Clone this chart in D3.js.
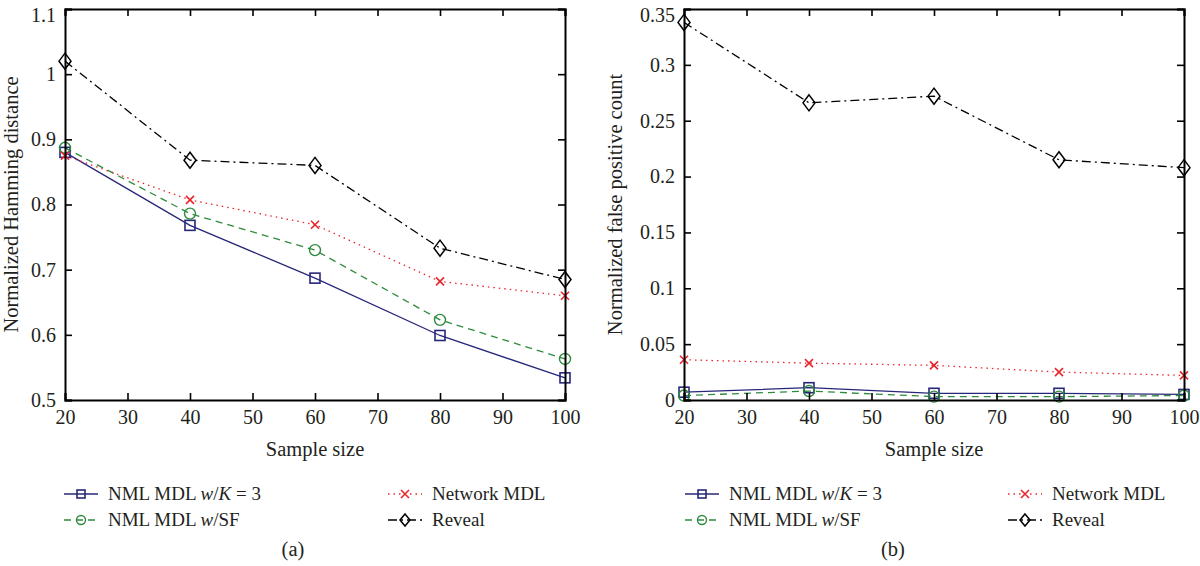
<!DOCTYPE html>
<html><head><meta charset="utf-8">
<script src="https://cdn.jsdelivr.net/npm/d3@7"></script>
<style>
body{margin:0;background:#fff;}
svg text{font-family:"Liberation Serif","DejaVu Serif",serif;fill:#231f20;}
</style></head>
<body><svg id="c" width="1200" height="566"></svg>
<script>
const sampleSizes = [20, 40, 60, 80, 100];
const xTicks = [20, 30, 40, 50, 60, 70, 80, 90, 100];

// Panel (a): Normalized Hamming distance
const hamK3      = [0.880, 0.768, 0.687, 0.599, 0.534];
const hamSF      = [0.887, 0.786, 0.730, 0.623, 0.563];
const hamNetwork = [0.875, 0.807, 0.769, 0.682, 0.660];
const hamReveal  = [1.020, 0.868, 0.860, 0.733, 0.685];
const hamTicks   = [0.5, 0.6, 0.7, 0.8, 0.9, 1.0, 1.1];

// Panel (b): Normalized false positive count
const fpK3      = [0.007, 0.011, 0.006, 0.006, 0.005];
const fpSF      = [0.004, 0.008, 0.003, 0.003, 0.004];
const fpNetwork = [0.036, 0.033, 0.031, 0.025, 0.022];
const fpReveal  = [0.338, 0.266, 0.272, 0.215, 0.208];
const fpTicks   = [0, 0.05, 0.1, 0.15, 0.2, 0.25, 0.3, 0.35];

const seriesNames = ["NML MDL w/K = 3", "NML MDL w/SF", "Network MDL", "Reveal"];

const styles = [
  {color:"#27277a", dash:null, marker:"square"},
  {color:"#2e8b3c", dash:"7,5", marker:"circle"},
  {color:"#e8262b", dash:"1.5,4", marker:"x"},
  {color:"#000000", dash:"9,4,2,4", marker:"diamond"}
];

const FS_TICK = 20, FS_LAB = 20.5, FS_LEG = 19;

const svg = d3.select("#c");

function drawMarker(g, type, x, y, color){
  if(type==="square"){
    g.append("rect").attr("x",x-5).attr("y",y-5).attr("width",10).attr("height",10)
      .attr("fill","none").attr("stroke",color).attr("stroke-width",1.6);
  } else if(type==="circle"){
    g.append("circle").attr("cx",x).attr("cy",y).attr("r",5.5)
      .attr("fill","none").attr("stroke",color).attr("stroke-width",1.4);
  } else if(type==="x"){
    g.append("path").attr("d",`M${x-4},${y-4}L${x+4},${y+4}M${x-4},${y+4}L${x+4},${y-4}`)
      .attr("stroke",color).attr("stroke-width",1.6).attr("fill","none");
  } else if(type==="diamond"){
    g.append("path").attr("d",`M${x},${y-8}L${x+6},${y}L${x},${y+8}L${x-6},${y}Z`)
      .attr("fill","none").attr("stroke",color).attr("stroke-width",1.5);
  }
}

function panel(cfg){
  const {left,right,top,bottom,yDomain,yTicks,yFmt,seriesData,yLabel,yLabelX,caption,legend} = cfg;
  const x = d3.scaleLinear().domain([20,100]).range([left,right]);
  const y = d3.scaleLinear().domain(yDomain).range([bottom,top]);
  const g = svg.append("g");

  seriesData.forEach((vals,i)=>{
    const st = styles[i];
    const line = d3.line().x((d,j)=>x(sampleSizes[j])).y(d=>y(d));
    g.append("path").datum(vals).attr("d",line).attr("fill","none")
      .attr("stroke",st.color).attr("stroke-width",1.3)
      .attr("stroke-dasharray",st.dash);
  });
  seriesData.forEach((vals,i)=>{
    vals.forEach((v,j)=>drawMarker(g, styles[i].marker, x(sampleSizes[j]), y(v), styles[i].color));
  });

  const ax = g.append("g").attr("transform",`translate(0,${bottom})`)
    .call(d3.axisBottom(x).tickValues(xTicks).tickSize(-7).tickPadding(10).tickFormat(d3.format("d")));
  const axTop = g.append("g").attr("transform",`translate(0,${top})`)
    .call(d3.axisTop(x).tickValues(xTicks).tickSize(-7).tickFormat(""));
  const ay = g.append("g").attr("transform",`translate(${left},0)`)
    .call(d3.axisLeft(y).tickValues(yTicks).tickSize(-7).tickPadding(9).tickFormat(yFmt));
  const ayR = g.append("g").attr("transform",`translate(${right},0)`)
    .call(d3.axisRight(y).tickValues(yTicks).tickSize(-7).tickFormat(""));
  [ax,axTop,ay,ayR].forEach(a=>{
    a.selectAll(".domain").attr("stroke","#000").attr("stroke-width",2);
    a.selectAll(".tick line").attr("stroke","#000").attr("stroke-width",1.6);
    a.selectAll("text").attr("font-size",FS_TICK).attr("fill","#231f20")
      .attr("font-family","'Liberation Serif','DejaVu Serif',serif");
  });
  // keep the top-most y tick label inside the picture
  const maxTick = yTicks[yTicks.length-1];
  ay.selectAll(".tick").filter(d=>d===maxTick).select("text").attr("dy","0.62em");

  svg.append("text").attr("x",(left+right)/2).attr("y",bottom+56).attr("text-anchor","middle")
    .attr("font-size",FS_LAB).text("Sample size");
  svg.append("text").attr("transform",`translate(${yLabelX},${(top+bottom)/2}) rotate(-90)`)
    .attr("text-anchor","middle").attr("font-size",FS_LAB).text(yLabel);

  const rows = [[0,legend.c1,legend.r1],[1,legend.c1,legend.r2],[2,legend.c2,legend.r1],[3,legend.c2,legend.r2]];
  rows.forEach(([i,cx,ry])=>{
    const st = styles[i];
    const lg = svg.append("g");
    lg.append("line").attr("x1",cx).attr("x2",cx+34).attr("y1",ry).attr("y2",ry)
      .attr("stroke",st.color).attr("stroke-width",1.6).attr("stroke-dasharray",st.dash);
    const m = lg.append("g");
    drawMarker(m, st.marker, cx+17, ry, st.color);
    m.selectAll("rect").attr("x",cx+17-4).attr("y",ry-4).attr("width",8).attr("height",8);
    m.selectAll("circle").attr("r",4.5);
    m.selectAll("path").filter(()=>st.marker==="diamond").attr("d",`M${cx+17},${ry-6}L${cx+22},${ry}L${cx+17},${ry+6}L${cx+12},${ry}Z`);
    const t = lg.append("text").attr("x",cx+44).attr("y",ry+6).attr("font-size",FS_LEG);
    const name = seriesNames[i];
    if(i===0){
      t.append("tspan").text("NML MDL ");
      t.append("tspan").attr("font-style","italic").text("w");
      t.append("tspan").text("/");
      t.append("tspan").attr("font-style","italic").text("K");
      t.append("tspan").text(" = 3");
    } else if(i===1){
      t.append("tspan").text("NML MDL ");
      t.append("tspan").attr("font-style","italic").text("w");
      t.append("tspan").text("/SF");
    } else {
      t.text(name);
    }
  });

  svg.append("text").attr("x",caption.x).attr("y",caption.y).attr("text-anchor","middle")
    .attr("font-size",FS_LAB).text(caption.t);
}

panel({left:65,right:565,top:9,bottom:400,yDomain:[0.5,1.1],yTicks:hamTicks,
  yFmt:d=>d===1?"1":d3.format(".1f")(d),
  seriesData:[hamK3,hamSF,hamNetwork,hamReveal],
  yLabel:"Normalized Hamming distance",yLabelX:18,
  caption:{x:293,y:556,t:"(a)"},
  legend:{c1:64,c2:388,r1:494,r2:520}});

panel({left:684,right:1184,top:9,bottom:400,yDomain:[0,0.35],yTicks:fpTicks,
  yFmt:d=>d===0?"0":String(+d.toFixed(2)),
  seriesData:[fpK3,fpSF,fpNetwork,fpReveal],
  yLabel:"Normalized false positive count",yLabelX:622,
  caption:{x:893,y:556,t:"(b)"},
  legend:{c1:685,c2:1008,r1:494,r2:520}});
</script></body></html>
